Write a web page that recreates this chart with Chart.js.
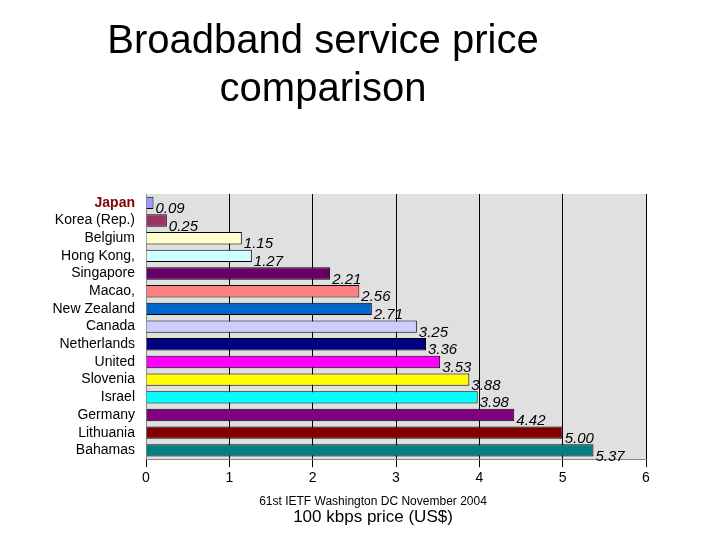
<!DOCTYPE html><html><head><script src="https://cdn.jsdelivr.net/npm/chart.js"></script>
<style>body{margin:0;background:#fff}#w{position:relative;width:720px;height:540px}</style></head><body><div id="w"><canvas id="c" width="720" height="540"></canvas></div>
<script>
const categories=["Japan","Korea (Rep.)","Belgium","Hong Kong,","Singapore","Macao,","New Zealand","Canada","Netherlands","United","Slovenia","Israel","Germany","Lithuania","Bahamas"];
const values=[0.09,0.25,1.15,1.27,2.21,2.56,2.71,3.25,3.36,3.53,3.88,3.98,4.42,5.00,5.37];
const valueLabels=["0.09","0.25","1.15","1.27","2.21","2.56","2.71","3.25","3.36","3.53","3.88","3.98","4.42","5.00","5.37"];
const colors=["#9999ff","#993366","#ffffcc","#ccffff","#660066","#ff8080","#0066cc","#ccccff","#000080","#ff00ff","#ffff00","#00ffff","#800080","#800000","#008080"];
const F="'Liberation Sans', Arial, sans-serif";
const bg={id:'bg',beforeDraw(ch){const a=ch.chartArea,x=ch.ctx;x.save();x.fillStyle='#e0e0e0';x.fillRect(a.left,a.top,a.right-a.left,a.bottom-a.top);x.restore();},
afterDatasetsDraw(ch){const x=ch.ctx,m=ch.getDatasetMeta(0);x.save();x.font='italic 15px '+F;x.fillStyle='#000';x.textBaseline='middle';
m.data.forEach((b,i)=>{x.fillText(valueLabels[i],b.x+2,b.y+6);});
x.font='12px '+F;x.textAlign='center';x.fillText('61st IETF Washington DC November 2004',373,502);
x.font='17px '+F;x.fillText('100 kbps price (US$)',373,517);x.restore();}};
new Chart(document.getElementById('c'),{type:'bar',data:{labels:categories,datasets:[{data:values,backgroundColor:colors,borderColor:'#000',borderWidth:1,barPercentage:0.7,categoryPercentage:1}]},
options:{indexAxis:'y',responsive:false,animation:false,layout:{padding:{left:0,right:74,top:0,bottom:50}},
plugins:{legend:{display:false},tooltip:{enabled:false},title:{display:true,text:['Broadband service price','comparison'],font:{family:F,size:40,weight:'normal'},color:'#000',padding:{top:18,bottom:80},lineHeight:1.25}},
scales:{x:{min:0,max:6,ticks:{stepSize:1,color:'#000',font:{family:F,size:14}},grid:{color:'#000',drawTicks:true},border:{color:'#888'}},
y:{ticks:{color:(c)=>c.index===0?'#800000':'#000',font:(c)=>({family:F,size:14,weight:c.index===0?'bold':'normal'}),autoSkip:false},grid:{display:false},border:{color:'#888'},afterFit(s){s.width=146;}}}},
plugins:[bg]});
</script></body></html>
